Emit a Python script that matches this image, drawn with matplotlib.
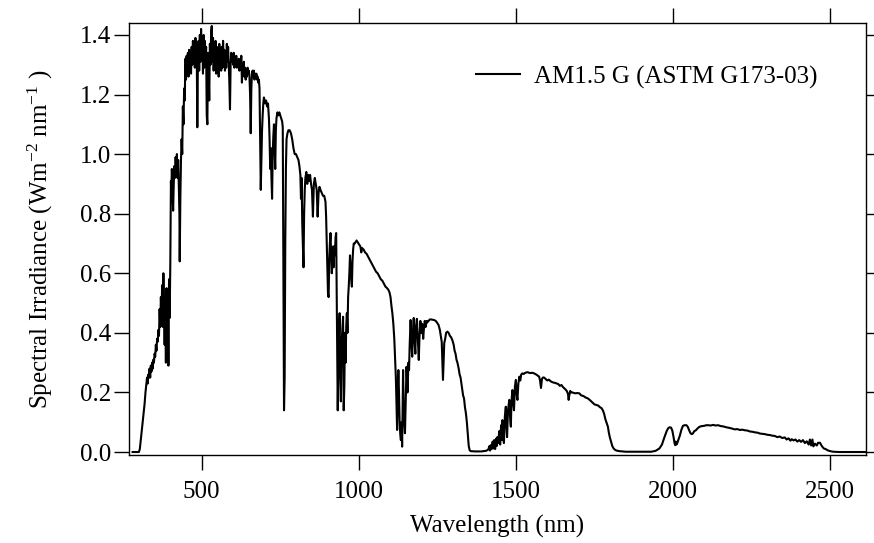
import matplotlib
matplotlib.use('Agg')
import matplotlib.pyplot as plt
import numpy as np

# AM1.5 G spectral irradiance, (wavelength nm, W m-2 nm-1), one list per band
uv_band = [
    (280, 0.0), (290, 0.0), (298, 0.0), (300, 0.0), (303, 0.01), (306, 0.04),
    (309, 0.07), (312, 0.10), (315, 0.13), (318, 0.16), (321, 0.20), (324, 0.23),
    (326, 0.25), (328, 0.23), (330, 0.26), (332, 0.25), (334, 0.28), (336, 0.25),
    (338, 0.29), (340, 0.27), (342, 0.30), (344, 0.28), (346, 0.31), (348, 0.30),
    (350, 0.33), (352, 0.32), (354, 0.36), (356, 0.34), (358, 0.38), (360, 0.37),
    (362, 0.41), (364, 0.39), (366, 0.48), (368, 0.42), (370, 0.52), (372, 0.45),
    (374, 0.56), (376, 0.42), (378, 0.60), (380, 0.48), (382, 0.36), (384, 0.50),
    (386, 0.30), (388, 0.55), (390, 0.32), (392, 0.52), (394, 0.29), (396, 0.58),
    (398, 0.45), (400, 0.63),
]

blue_band = [
    (402, 0.91), (403, 0.86), (405, 0.95), (407, 0.88), (409, 0.81), (411, 0.90),
    (413, 0.96), (415, 0.92), (417, 0.99), (419, 0.93), (421, 1.00), (423, 0.92),
    (425, 0.98), (427, 0.90), (429, 0.80), (430, 0.64), (432, 0.85), (434, 0.98),
]

visible_band = [
    (436, 1.05), (438, 1.00), (440, 1.16), (442, 1.10), (444, 1.22), (446, 1.18),
    (448, 1.32), (450, 1.25), (452, 1.33), (454, 1.27), (456, 1.34), (458, 1.26),
    (460, 1.35), (462, 1.29), (464, 1.33), (466, 1.27), (468, 1.36), (470, 1.30),
    (472, 1.38), (474, 1.31), (476, 1.37), (478, 1.29), (480, 1.39), (482, 1.32),
    (484, 1.36), (486, 1.09), (488, 1.33), (490, 1.38), (492, 1.28), (494, 1.40),
    (496, 1.31), (498, 1.42), (500, 1.33), (502, 1.39), (504, 1.27), (506, 1.40),
    (508, 1.29), (510, 1.38), (512, 1.31), (514, 1.36), (516, 1.13), (518, 1.10),
    (520, 1.34), (522, 1.28), (524, 1.18), (526, 1.37), (528, 1.30), (530, 1.41),
    (532, 1.43), (534, 1.31), (536, 1.39), (538, 1.28), (540, 1.37), (542, 1.30),
    (544, 1.38), (546, 1.27), (548, 1.36), (550, 1.29), (552, 1.35), (554, 1.26),
    (556, 1.37), (558, 1.30), (560, 1.34), (562, 1.28), (564, 1.36), (566, 1.29),
    (568, 1.38), (570, 1.30), (572, 1.35), (574, 1.28), (576, 1.33), (578, 1.29),
    (580, 1.37), (582, 1.31), (584, 1.36), (586, 1.30), (588, 1.24), (590, 1.15),
    (592, 1.30), (594, 1.34), (596, 1.31), (598, 1.33), (600, 1.30), (602, 1.34),
    (604, 1.29), (606, 1.32), (608, 1.30), (610, 1.33), (612, 1.29), (614, 1.31),
    (616, 1.30), (618, 1.32), (620, 1.28), (622, 1.31), (624, 1.29), (626, 1.33),
    (628, 1.24), (630, 1.30), (632, 1.27), (634, 1.31), (636, 1.26), (638, 1.29),
    (640, 1.25), (642, 1.28), (644, 1.26), (646, 1.29), (648, 1.27), (650, 1.28),
    (652, 1.26), (654, 1.20), (656, 1.07), (658, 1.22), (660, 1.27), (662, 1.28),
    (664, 1.26), (666, 1.28), (668, 1.25), (670, 1.27), (672, 1.26), (674, 1.27),
    (676, 1.25), (678, 1.26), (680, 1.24), (682, 1.25), (684, 1.22), (686, 1.05),
    (688, 0.88), (690, 0.98), (692, 1.08), (694, 1.13), (696, 1.17), (698, 1.19),
    (700, 1.18),
]

red_band = [
    (702, 1.17), (705, 1.18), (708, 1.16), (711, 1.17), (714, 1.12), (716, 1.05),
    (718, 0.95), (720, 1.02), (722, 0.92), (724, 0.85), (726, 1.00), (728, 1.06),
    (730, 1.10), (732, 1.03), (734, 0.95), (736, 1.08), (738, 1.12), (741, 1.14),
    (744, 1.13), (747, 1.14), (750, 1.13), (753, 1.12), (756, 1.11), (758, 1.09),
    (760, 0.60), (762, 0.14), (764, 0.25), (766, 0.70), (768, 0.95), (770, 1.05),
    (773, 1.07), (776, 1.08), (780, 1.08), (784, 1.07), (788, 1.05), (792, 1.02),
    (796, 1.00), (800, 1.00), (804, 0.99), (808, 0.98), (811, 0.96), (814, 0.93),
    (816, 0.85), (818, 0.92), (820, 0.77), (822, 0.70), (824, 0.62), (826, 0.80),
    (828, 0.88), (830, 0.92), (833, 0.94), (836, 0.90), (839, 0.93), (842, 0.91),
    (845, 0.93), (848, 0.90), (851, 0.88), (854, 0.79), (857, 0.90), (860, 0.92),
    (863, 0.90), (866, 0.88), (869, 0.79), (872, 0.87), (875, 0.89), (878, 0.88),
    (882, 0.87), (886, 0.86), (890, 0.86), (894, 0.84), (896, 0.79), (898, 0.70),
    (900, 0.60), (902, 0.53), (904, 0.52), (906, 0.65), (908, 0.70), (910, 0.735),
    (912, 0.66), (914, 0.60), (916, 0.63), (918, 0.69), (920, 0.62), (922, 0.69),
    (924, 0.66), (926, 0.72), (928, 0.735), (930, 0.50), (932, 0.30), (933, 0.14),
    (935, 0.30), (937, 0.40), (939, 0.466), (941, 0.25), (943, 0.17), (945, 0.35),
    (947, 0.40), (950, 0.454), (952, 0.14), (954, 0.22), (956, 0.40), (958, 0.30),
    (960, 0.42), (962, 0.466), (964, 0.40), (966, 0.52), (968, 0.555), (970, 0.60),
    (972, 0.66), (974, 0.62), (976, 0.58), (978, 0.555), (980, 0.64), (982, 0.68),
    (984, 0.70), (987, 0.70), (990, 0.705), (993, 0.71), (996, 0.705), (999, 0.70),
]

nir_band = [
    (1002, 0.695), (1005, 0.69), (1008, 0.67), (1010, 0.685), (1015, 0.68),
    (1020, 0.67), (1025, 0.665), (1030, 0.655), (1035, 0.645), (1040, 0.635),
    (1045, 0.625), (1050, 0.615), (1055, 0.605), (1060, 0.60), (1065, 0.59),
    (1070, 0.58), (1075, 0.575), (1080, 0.565), (1085, 0.555), (1090, 0.55),
    (1094, 0.545), (1098, 0.535), (1101, 0.52), (1104, 0.49), (1107, 0.465),
    (1110, 0.43), (1113, 0.38), (1116, 0.30), (1118, 0.25), (1120, 0.16),
    (1122, 0.074), (1124, 0.20), (1126, 0.275), (1128, 0.20), (1130, 0.10),
    (1132, 0.06), (1134, 0.04), (1136, 0.10), (1138, 0.018), (1140, 0.20),
    (1141, 0.275), (1143, 0.15), (1145, 0.10), (1147, 0.063), (1149, 0.15),
    (1152, 0.286), (1155, 0.20), (1158, 0.30), (1160, 0.275), (1162, 0.36),
    (1165, 0.443), (1167, 0.38), (1170, 0.32), (1172, 0.40), (1175, 0.45),
    (1177, 0.38), (1180, 0.33), (1182, 0.42), (1185, 0.447), (1187, 0.40),
    (1189, 0.35), (1191, 0.309), (1193, 0.38), (1196, 0.44), (1199, 0.40),
    (1202, 0.43), (1205, 0.38), (1207, 0.41), (1210, 0.44), (1213, 0.42),
    (1216, 0.44), (1218, 0.435), (1222, 0.44), (1226, 0.445), (1230, 0.445),
    (1235, 0.444), (1240, 0.443), (1245, 0.44), (1250, 0.433), (1254, 0.426),
    (1258, 0.41), (1261, 0.39), (1264, 0.37), (1266, 0.30), (1268, 0.242),
    (1270, 0.30), (1272, 0.365), (1275, 0.38), (1278, 0.40), (1282, 0.404),
    (1286, 0.40), (1290, 0.39), (1294, 0.385), (1298, 0.375), (1302, 0.36),
    (1305, 0.34), (1308, 0.33), (1311, 0.31), (1314, 0.30), (1318, 0.28),
    (1321, 0.26), (1324, 0.25), (1328, 0.22), (1332, 0.19), (1335, 0.18),
    (1338, 0.15), (1341, 0.13), (1344, 0.10), (1347, 0.06), (1350, 0.02),
    (1353, 0.006), (1356, 0.003), (1370, 0.002), (1390, 0.002), (1405, 0.004),
]

swir_band = [
    (1412, 0.008), (1416, 0.02), (1418, 0.005), (1420, 0.023), (1423, 0.01),
    (1426, 0.035), (1429, 0.012), (1431, 0.04), (1434, 0.01), (1437, 0.045),
    (1439, 0.02), (1441, 0.05), (1444, 0.03), (1447, 0.07), (1450, 0.025),
    (1453, 0.09), (1455, 0.04), (1457, 0.107), (1459, 0.06), (1462, 0.03),
    (1465, 0.12), (1468, 0.152), (1470, 0.09), (1472, 0.05), (1475, 0.14),
    (1479, 0.175), (1482, 0.11), (1484, 0.085), (1486, 0.17), (1489, 0.208),
    (1492, 0.16), (1494, 0.14), (1497, 0.22), (1500, 0.242), (1503, 0.19),
    (1505, 0.175), (1508, 0.23), (1511, 0.253), (1514, 0.24), (1517, 0.26),
    (1521, 0.264), (1525, 0.262), (1530, 0.266), (1537, 0.268), (1545, 0.265),
    (1552, 0.266), (1558, 0.264), (1565, 0.26), (1570, 0.256), (1574, 0.253),
    (1577, 0.24), (1580, 0.215), (1583, 0.245), (1586, 0.25), (1590, 0.25),
    (1595, 0.245), (1600, 0.24), (1605, 0.243), (1610, 0.238), (1615, 0.235),
    (1620, 0.233), (1625, 0.232), (1630, 0.23), (1635, 0.228), (1640, 0.222),
    (1645, 0.225), (1650, 0.218), (1654, 0.214), (1658, 0.21), (1662, 0.205),
    (1666, 0.195), (1668, 0.175), (1670, 0.19), (1673, 0.205), (1676, 0.2),
    (1680, 0.2), (1685, 0.198), (1690, 0.197), (1695, 0.198), (1702, 0.197),
    (1708, 0.19), (1715, 0.188), (1722, 0.183), (1729, 0.18), (1735, 0.175),
    (1742, 0.168), (1750, 0.16), (1756, 0.158), (1762, 0.156), (1768, 0.15),
    (1772, 0.148), (1777, 0.14), (1781, 0.128), (1785, 0.11), (1789, 0.097),
    (1793, 0.085), (1796, 0.065), (1799, 0.05), (1803, 0.035), (1807, 0.02),
    (1811, 0.012), (1815, 0.008), (1820, 0.005), (1829, 0.003), (1850, 0.001),
    (1900, 0.001), (1931, 0.001),
]

far_band = [
    (1945, 0.004), (1957, 0.012), (1965, 0.025), (1973, 0.05), (1980, 0.07),
    (1985, 0.08), (1989, 0.083), (1994, 0.082), (1998, 0.072), (2002, 0.05),
    (2005, 0.03), (2007, 0.023), (2009, 0.035), (2011, 0.025), (2013, 0.028),
    (2017, 0.04), (2022, 0.055), (2027, 0.075), (2032, 0.088), (2037, 0.09),
    (2043, 0.09), (2047, 0.085), (2052, 0.072), (2056, 0.063), (2060, 0.06),
    (2064, 0.063), (2068, 0.07), (2073, 0.073), (2079, 0.08), (2085, 0.085),
    (2092, 0.087), (2100, 0.088), (2106, 0.09), (2112, 0.09), (2120, 0.089),
    (2128, 0.091), (2136, 0.089), (2144, 0.09), (2152, 0.087), (2160, 0.086),
    (2170, 0.083), (2180, 0.081), (2190, 0.078), (2197, 0.076), (2205, 0.077),
    (2213, 0.074), (2221, 0.075), (2229, 0.073), (2237, 0.072), (2245, 0.069),
    (2253, 0.068), (2261, 0.066), (2269, 0.065), (2277, 0.062), (2285, 0.061),
    (2293, 0.06), (2300, 0.058), (2308, 0.057), (2316, 0.055), (2324, 0.054),
    (2332, 0.05), (2340, 0.052), (2348, 0.047), (2356, 0.049), (2362, 0.042),
    (2368, 0.046), (2374, 0.038), (2378, 0.043), (2384, 0.039), (2390, 0.042),
    (2396, 0.035), (2402, 0.04), (2408, 0.034), (2414, 0.04), (2420, 0.03),
    (2426, 0.036), (2432, 0.025), (2436, 0.042), (2440, 0.022), (2444, 0.042),
    (2447, 0.019), (2452, 0.028), (2458, 0.022), (2462, 0.031), (2468, 0.031),
    (2474, 0.02), (2480, 0.012), (2486, 0.01), (2492, 0.006), (2500, 0.003),
    (2510, 0.001), (2530, 0.0), (2560, 0.0), (2590, 0.0), (2614, 0.0),
]

bands = [uv_band, blue_band, visible_band, red_band, nir_band, swir_band, far_band]
spectrum = np.array([p for band in bands for p in band])
wavelength = spectrum[:, 0]
irradiance = spectrum[:, 1]

plt.rcParams['font.family'] = ['Liberation Serif', 'DejaVu Serif']
plt.rcParams['mathtext.fontset'] = 'custom'
plt.rcParams['mathtext.rm'] = 'Liberation Serif'
plt.rcParams['mathtext.it'] = 'Liberation Serif:italic'
plt.rcParams['font.size'] = 18

fig = plt.figure(figsize=(8.74, 5.43), dpi=100)
ax = fig.add_axes([129.3 / 874, 1 - 455 / 543, (865.7 - 129.3) / 874, (455 - 22.7) / 543])

ax.plot(wavelength, irradiance, color='black', lw=1.5, label='AM1.5 G (ASTM G173-03)')

ax.set_xlim(269.5, 2613.6)
ax.set_ylim(-0.010, 1.441)
ax.set_xticks([500, 1000, 1500, 2000, 2500])
ax.set_yticks([0.0, 0.2, 0.4, 0.6, 0.8, 1.0, 1.2, 1.4])
ax.yaxis.set_major_formatter(matplotlib.ticker.FormatStrFormatter('%.1f'))

for side in ax.spines.values():
    side.set_linewidth(1.0)
ax.tick_params(direction='out', length=11, width=1.0, pad=2,
               top=True, right=True, labeltop=False, labelright=False)
ax.tick_params(axis='x', pad=8)

ax.set_xlabel('Wavelength (nm)', labelpad=8)
ax.set_ylabel(r'Spectral Irradiance (Wm$^{-2}$ nm$^{-1}$ )', labelpad=18)

ax.legend(loc='center left', bbox_to_anchor=(463 / 874, 1 - 77 / 543),
          bbox_transform=fig.transFigure, frameon=False, borderpad=0,
          handlelength=1.76, handletextpad=0.6)

fig.savefig('out.png', dpi=100)
